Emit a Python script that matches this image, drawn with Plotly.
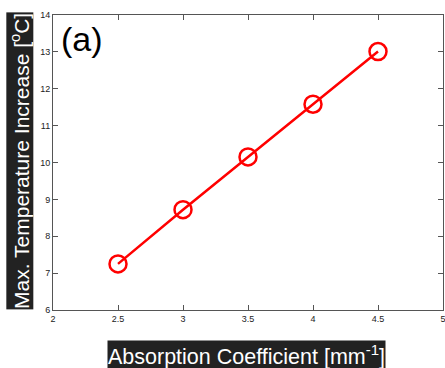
import plotly.graph_objects as go

# Absorption coefficient (mm^-1) vs. maximum temperature increase (°C)
absorption = [2.5, 3.0, 3.5, 4.0, 4.5]
max_temp_increase = [7.25, 8.72, 10.15, 11.58, 13.01]

x_ticks = [2, 2.5, 3, 3.5, 4, 4.5, 5]
x_tick_labels = ["2", "2.5", "3", "3.5", "4", "4.5", "5"]
y_ticks = [6, 7, 8, 9, 10, 11, 12, 13, 14]
y_tick_labels = [str(v) for v in y_ticks]

fig = go.Figure()
fig.add_trace(go.Scatter(
    x=absorption,
    y=max_temp_increase,
    mode="lines+markers",
    line=dict(color="#ff0000", width=2.5),
    marker=dict(symbol="circle-open", size=17, color="#ff0000",
                line=dict(color="#ff0000", width=2.5)),
    showlegend=False,
))

axis_common = dict(
    showgrid=False, zeroline=False, automargin=False,
    showline=True, linecolor="#555555", linewidth=1, mirror="ticks",
    ticks="inside", ticklen=5, tickcolor="#555555", tickwidth=1,
    ticklabeloverflow="allow",
    tickfont=dict(family="Liberation Sans, Arial, sans-serif", size=9, color="#222222"),
)

fig.update_layout(
    width=445, height=368,
    margin=dict(l=53, r=2, t=15, b=58),
    paper_bgcolor="white", plot_bgcolor="white",
    xaxis=dict(range=[2, 5], tickvals=x_ticks, ticktext=x_tick_labels, **axis_common),
    yaxis=dict(range=[6, 14], tickvals=y_ticks, ticktext=y_tick_labels, **axis_common),
    annotations=[
        dict(text="(a)", xref="paper", yref="paper", x=0.015, y=0.99,
             xanchor="left", yanchor="top", showarrow=False,
             font=dict(family="Liberation Sans, Arial, sans-serif", size=34, color="black")),
        dict(text="Absorption Coefficient [mm<sup>-1</sup>]",
             xref="paper", yref="paper", x=0.495, y=-0.153,
             xanchor="center", yanchor="middle", showarrow=False,
             bgcolor="#222222", borderpad=0,
             font=dict(family="Liberation Sans, Arial, sans-serif", size=21.5, color="white")),
        dict(text="Max. Temperature Increase [<sup>o</sup>C]",
             xref="paper", yref="paper", x=-0.085, y=0.505,
             xanchor="center", yanchor="middle", showarrow=False, textangle=-90,
             bgcolor="#222222", borderpad=0,
             font=dict(family="Liberation Sans, Arial, sans-serif", size=21, color="white")),
    ],
)

fig.write_html("out.html")
